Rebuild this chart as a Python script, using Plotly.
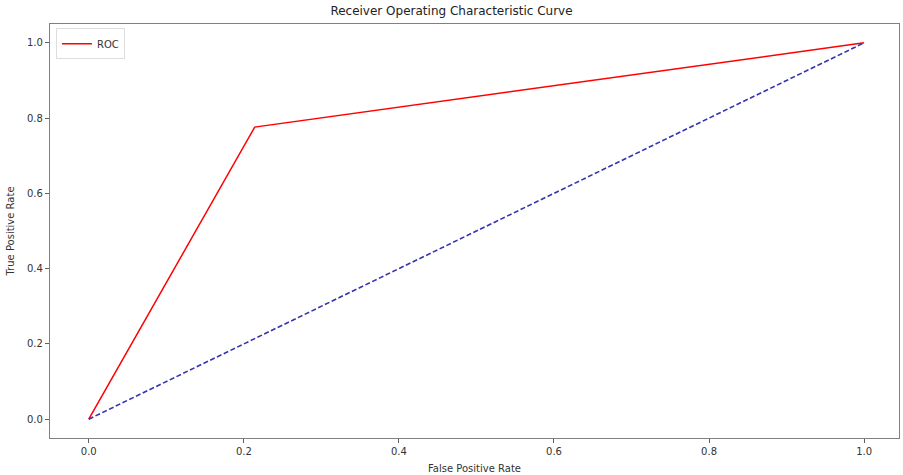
import plotly.graph_objects as go

fpr = [0.0, 0.214, 1.0]
tpr = [0.0, 0.776, 1.0]
diag_x = [0.0, 1.0]
diag_y = [0.0, 1.0]
tick_vals = [0.0, 0.2, 0.4, 0.6, 0.8, 1.0]
tick_text = ["0.0", "0.2", "0.4", "0.6", "0.8", "1.0"]

fig = go.Figure()
fig.add_trace(go.Scatter(x=fpr, y=tpr, mode="lines", name="ROC",
                         line=dict(color="red", width=1.5)))
fig.add_trace(go.Scatter(x=diag_x, y=diag_y, mode="lines", showlegend=False,
                         line=dict(color="#3434b0", width=1.6, dash="5px,2.5px")))

axis_common = dict(showline=True, mirror=True, linecolor="#808080", linewidth=1.2,
                   ticks="outside", ticklen=4, tickcolor="#606060", showgrid=False,
                   zeroline=False, tickfont=dict(size=10, color="#333333"),
                   tickvals=tick_vals, ticktext=tick_text)

fig.update_layout(
    width=903, height=475,
    margin=dict(l=50, r=4, t=24, b=37),
    paper_bgcolor="white", plot_bgcolor="white",
    font=dict(family="DejaVu Sans", color="#333333"),
    title=dict(text="Receiver Operating Characteristic Curve", x=0.5, xanchor="center",
               y=0.977, yanchor="middle", font=dict(size=12, color="#222222")),
    xaxis=dict(range=[-0.05, 1.045],
               title=dict(text="False Positive Rate", font=dict(size=10), standoff=8),
               **axis_common),
    yaxis=dict(range=[-0.05, 1.05],
               title=dict(text="True Positive Rate", font=dict(size=10), standoff=10),
               **axis_common),
    legend=dict(x=0.007, y=0.99, xanchor="left", yanchor="top",
                bordercolor="#dddddd", borderwidth=1, bgcolor="white",
                font=dict(size=10, color="#333333"), itemwidth=30,
                tracegroupgap=0),
    showlegend=True,
)

fig.write_html("out.html")
